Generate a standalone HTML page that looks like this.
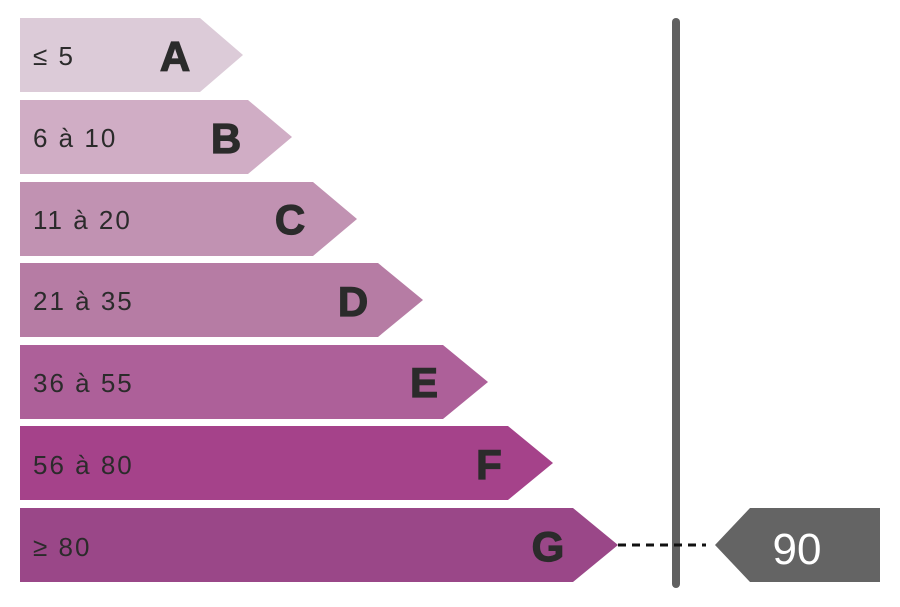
<!DOCTYPE html>
<html><head><style>html,body{margin:0;padding:0;background:#fff}svg{display:block}</style></head>
<body>
<svg width="900" height="607" viewBox="0 0 900 607" xmlns="http://www.w3.org/2000/svg" font-family="Liberation Sans, DejaVu Sans, sans-serif">
<g>
<polygon points="20,18 200,18 243,55 200,92 20,92" fill="#dccbd8"/>
<polygon points="20,100 248,100 292,137 248,174 20,174" fill="#d0adc5"/>
<polygon points="20,182 313,182 357,219 313,256 20,256" fill="#c192b2"/>
<polygon points="20,263 378,263 423,300 378,337 20,337" fill="#b67ca4"/>
<polygon points="20,345 443,345 488,382 443,419 20,419" fill="#ad6099"/>
<polygon points="20,426 508,426 553,463 508,500 20,500" fill="#a5428a"/>
<polygon points="20,508 573,508 618,545 573,582 20,582" fill="#9a4788"/>
</g>
<g fill="#2b2b2b" font-size="26" letter-spacing="2">
<text x="33" y="65">≤ 5</text>
<text x="33" y="147">6 à 10</text>
<text x="33" y="229">11 à 20</text>
<text x="33" y="310">21 à 35</text>
<text x="33" y="392">36 à 55</text>
<text x="33" y="474">56 à 80</text>
<text x="33" y="556">≥ 80</text>
</g>
<g fill="#2b2b2b" font-size="42" font-weight="bold" text-anchor="middle" stroke="#2b2b2b" stroke-width="1.2">
<text x="175" y="71">A</text>
<text x="226" y="153">B</text>
<text x="290" y="234">C</text>
<text x="353" y="316">D</text>
<text x="424" y="397">E</text>
<text x="489" y="479">F</text>
<text x="548" y="561">G</text>
</g>
<line x1="676" y1="22" x2="676" y2="584" stroke="#606060" stroke-width="8" stroke-linecap="round"/>
<line x1="618" y1="545" x2="706" y2="545" stroke="#111" stroke-width="3" stroke-dasharray="8,6"/>
<polygon points="715,545 750,508 880,508 880,582 750,582" fill="#646464"/>
<text x="797" y="564" fill="#fff" font-size="44" text-anchor="middle">90</text>
</svg>
</body></html>
